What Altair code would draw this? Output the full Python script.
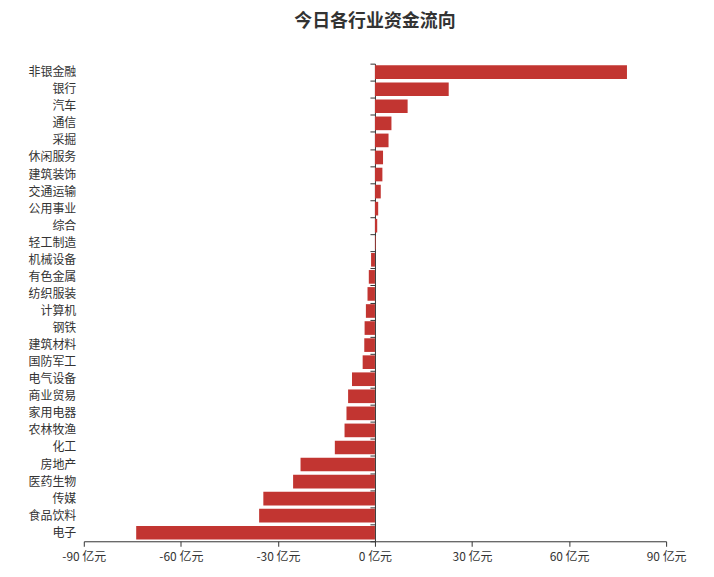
import altair as alt
import pandas as pd

industries = ["非银金融", "银行", "汽车", "通信", "采掘", "休闲服务", "建筑装饰", "交通运输",
              "公用事业", "综合", "轻工制造", "机械设备", "有色金属", "纺织服装", "计算机", "钢铁",
              "建筑材料", "国防军工", "电气设备", "商业贸易", "家用电器", "农林牧渔", "化工", "房地产",
              "医药生物", "传媒", "食品饮料", "电子"]
flows = [77.9, 22.8, 10.1, 5.1, 4.2, 2.5, 2.3, 1.8,
         1.0, 0.7, 0.2, -1.2, -1.9, -2.3, -2.8, -3.2,
         -3.3, -3.8, -7.1, -8.3, -8.8, -9.4, -12.4, -23.0,
         -25.3, -34.5, -35.8, -73.8]
x_ticks = [-90, -60, -30, 0, 30, 60, 90]

df = pd.DataFrame({"industry": industries, "flow": flows})

FONT = "Noto Sans CJK SC"
TXT = "#333333"

x_enc = alt.X("flow:Q",
              scale=alt.Scale(domain=[-90, 90], nice=False, zero=False),
              axis=alt.Axis(values=x_ticks, labelExpr="datum.value + ' 亿元'", title=None,
                            grid=False, domainColor=TXT, tickColor=TXT, tickSize=5,
                            labelFlush=False, labelOverlap=False,
                            labelColor=TXT, labelFontSize=12, labelFont=FONT, labelPadding=5))

y_scale = alt.Scale(paddingInner=0, paddingOuter=0)

bars = alt.Chart(df).mark_bar(color="#c23531", height={"band": 0.8}).encode(
    x=x_enc,
    y=alt.Y("industry:N", sort=industries, scale=y_scale,
            axis=alt.Axis(orient="left", title=None, domain=False, ticks=False,
                          labelColor=TXT, labelFontSize=12, labelFont=FONT, labelPadding=8)),
)

zero_axis = alt.Chart(df).mark_bar(opacity=0).encode(
    x=x_enc,
    y=alt.Y("industry:N", sort=industries, scale=y_scale,
            axis=alt.Axis(orient="left", title=None, labels=False, domain=True, ticks=True,
                          tickBand="extent", tickSize=5, tickColor=TXT, domainColor=TXT,
                          offset=-292)),
)

chart = alt.layer(bars, zero_axis).resolve_axis(y="independent").properties(
    width=584,
    height=479,
    padding={"left": 76, "top": 55, "right": 40, "bottom": 30},
    autosize=alt.AutoSizeParams(type="none"),
    title=alt.TitleParams("今日各行业资金流向", anchor="middle", fontSize=18, font=FONT,
                          fontWeight="bold", color=TXT, offset=32),
).configure_view(stroke=None)

chart.save("out.html", embed_options={"renderer": "svg", "actions": False})
